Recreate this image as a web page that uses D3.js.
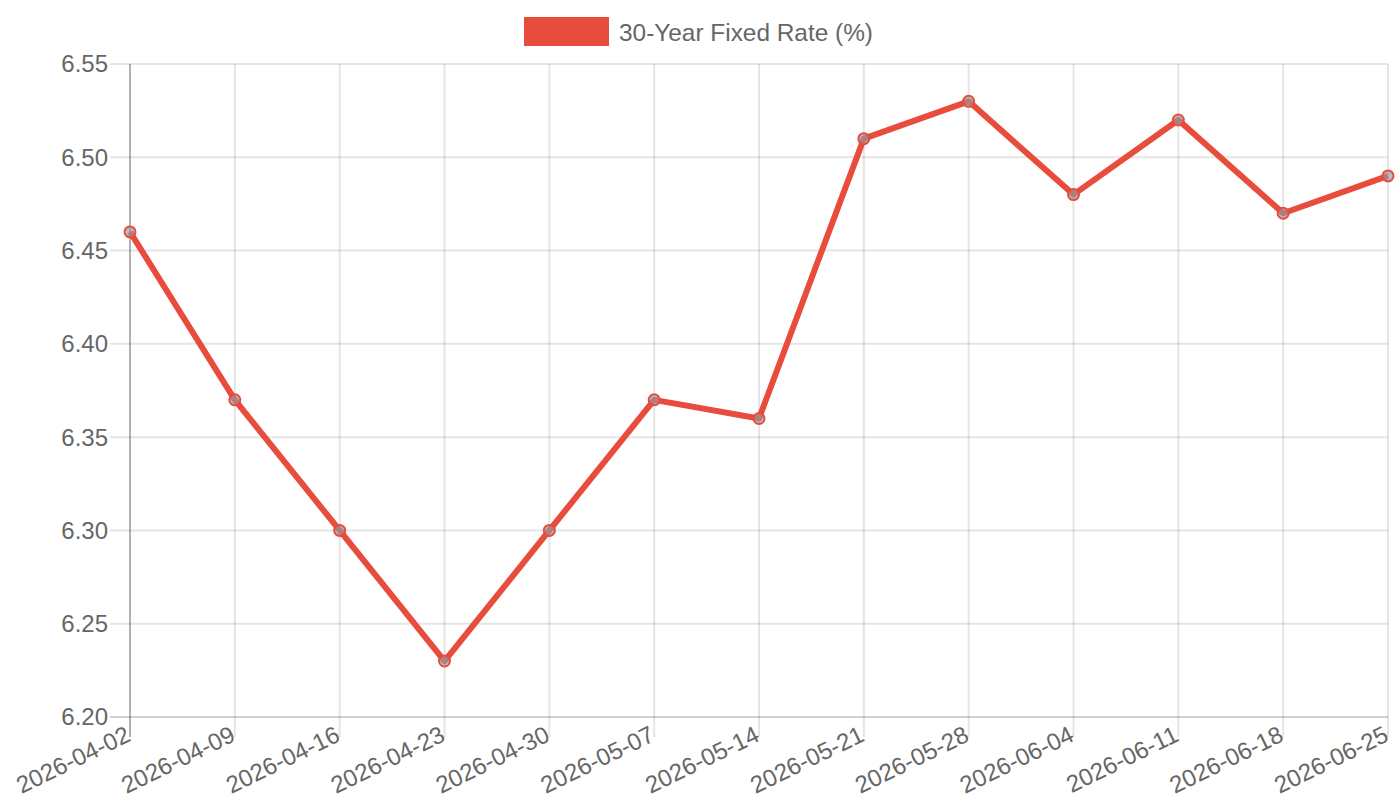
<!DOCTYPE html>
<html>
<head>
<meta charset="utf-8">
<script src="https://cdn.jsdelivr.net/npm/d3@7"></script>
<style>
  body { margin: 0; background: #fff; }
  text { font-family: "Liberation Sans", Arial, sans-serif; fill: #666; }
</style>
</head>
<body>
<div id="chart"></div>
<script>
var dates = ['2026-04-02', '2026-04-09', '2026-04-16', '2026-04-23', '2026-04-30', '2026-05-07',
  '2026-05-14', '2026-05-21', '2026-05-28', '2026-06-04', '2026-06-11', '2026-06-18', '2026-06-25'];
var rates = [6.46, 6.37, 6.30, 6.23, 6.30, 6.37, 6.36, 6.51, 6.53, 6.48, 6.52, 6.47, 6.49];
var yTicks = [6.20, 6.25, 6.30, 6.35, 6.40, 6.45, 6.50, 6.55];
var seriesName = '30-Year Fixed Rate (%)';

var W = 1400, H = 800;
var plotL = 130, plotR = 1388, plotT = 64, plotB = 717;
var red = '#e74c3c';

var svg = d3.select('#chart').append('svg')
    .attr('width', W)
    .attr('height', H);

var x = d3.scalePoint()
    .domain(dates)
    .range([plotL, plotR]);
var y = d3.scaleLinear()
    .domain([6.20, 6.55])
    .range([plotB, plotT]);

// grid lines (with 20px tick overhang)
svg.append('g').selectAll('line')
    .data(yTicks)
    .enter().append('line')
    .attr('x1', plotL - 20).attr('x2', plotR)
    .attr('y1', function(d) { return y(d); })
    .attr('y2', function(d) { return y(d); })
    .style('stroke', function(d, i) { return i === 0 ? 'rgba(0,0,0,0.18)' : 'rgba(0,0,0,0.1)'; })
    .style('stroke-width', 2);

svg.append('g').selectAll('line')
    .data(dates)
    .enter().append('line')
    .attr('x1', function(d) { return x(d); })
    .attr('x2', function(d) { return x(d); })
    .attr('y1', plotT).attr('y2', plotB + 20)
    .style('stroke', function(d, i) { return i === 0 ? 'rgba(0,0,0,0.3)' : 'rgba(0,0,0,0.1)'; })
    .style('stroke-width', 2);

// y labels
svg.append('g').selectAll('text')
    .data(yTicks)
    .enter().append('text')
    .attr('x', 108)
    .attr('y', function(d) { return y(d); })
    .attr('dy', '0.35em')
    .attr('text-anchor', 'end')
    .style('font-size', '24px')
    .text(function(d) { return d.toFixed(2); });

// x labels, rotated
svg.append('g').selectAll('text')
    .data(dates)
    .enter().append('text')
    .attr('transform', function(d) { return 'translate(' + (x(d) - 6) + ',' + (plotB + 7) + ') rotate(-26)'; })
    .attr('text-anchor', 'end')
    .attr('dy', '0.75em')
    .style('font-size', '24px')
    .text(function(d) { return d; });

// line
var line = d3.line()
    .x(function(d, i) { return x(dates[i]); })
    .y(function(d) { return y(d); });

svg.append('path')
    .datum(rates)
    .attr('d', line)
    .style('fill', 'none')
    .style('stroke', red)
    .style('stroke-width', 6)
    .style('stroke-linejoin', 'round');

svg.append('g').selectAll('circle')
    .data(rates)
    .enter().append('circle')
    .attr('cx', function(d, i) { return x(dates[i]); })
    .attr('cy', function(d) { return y(d); })
    .attr('r', 5.5)
    .style('fill', 'rgba(150,150,160,0.65)')
    .style('stroke', red)
    .style('stroke-width', 2);

// legend
var legend = svg.append('g');
legend.append('rect')
    .attr('x', 524).attr('y', 17)
    .attr('width', 85).attr('height', 29)
    .style('fill', red);
legend.append('text')
    .attr('x', 619).attr('y', 32)
    .attr('dy', '0.35em')
    .style('font-size', '24.4px')
    .text(seriesName);
</script>
</body>
</html>
